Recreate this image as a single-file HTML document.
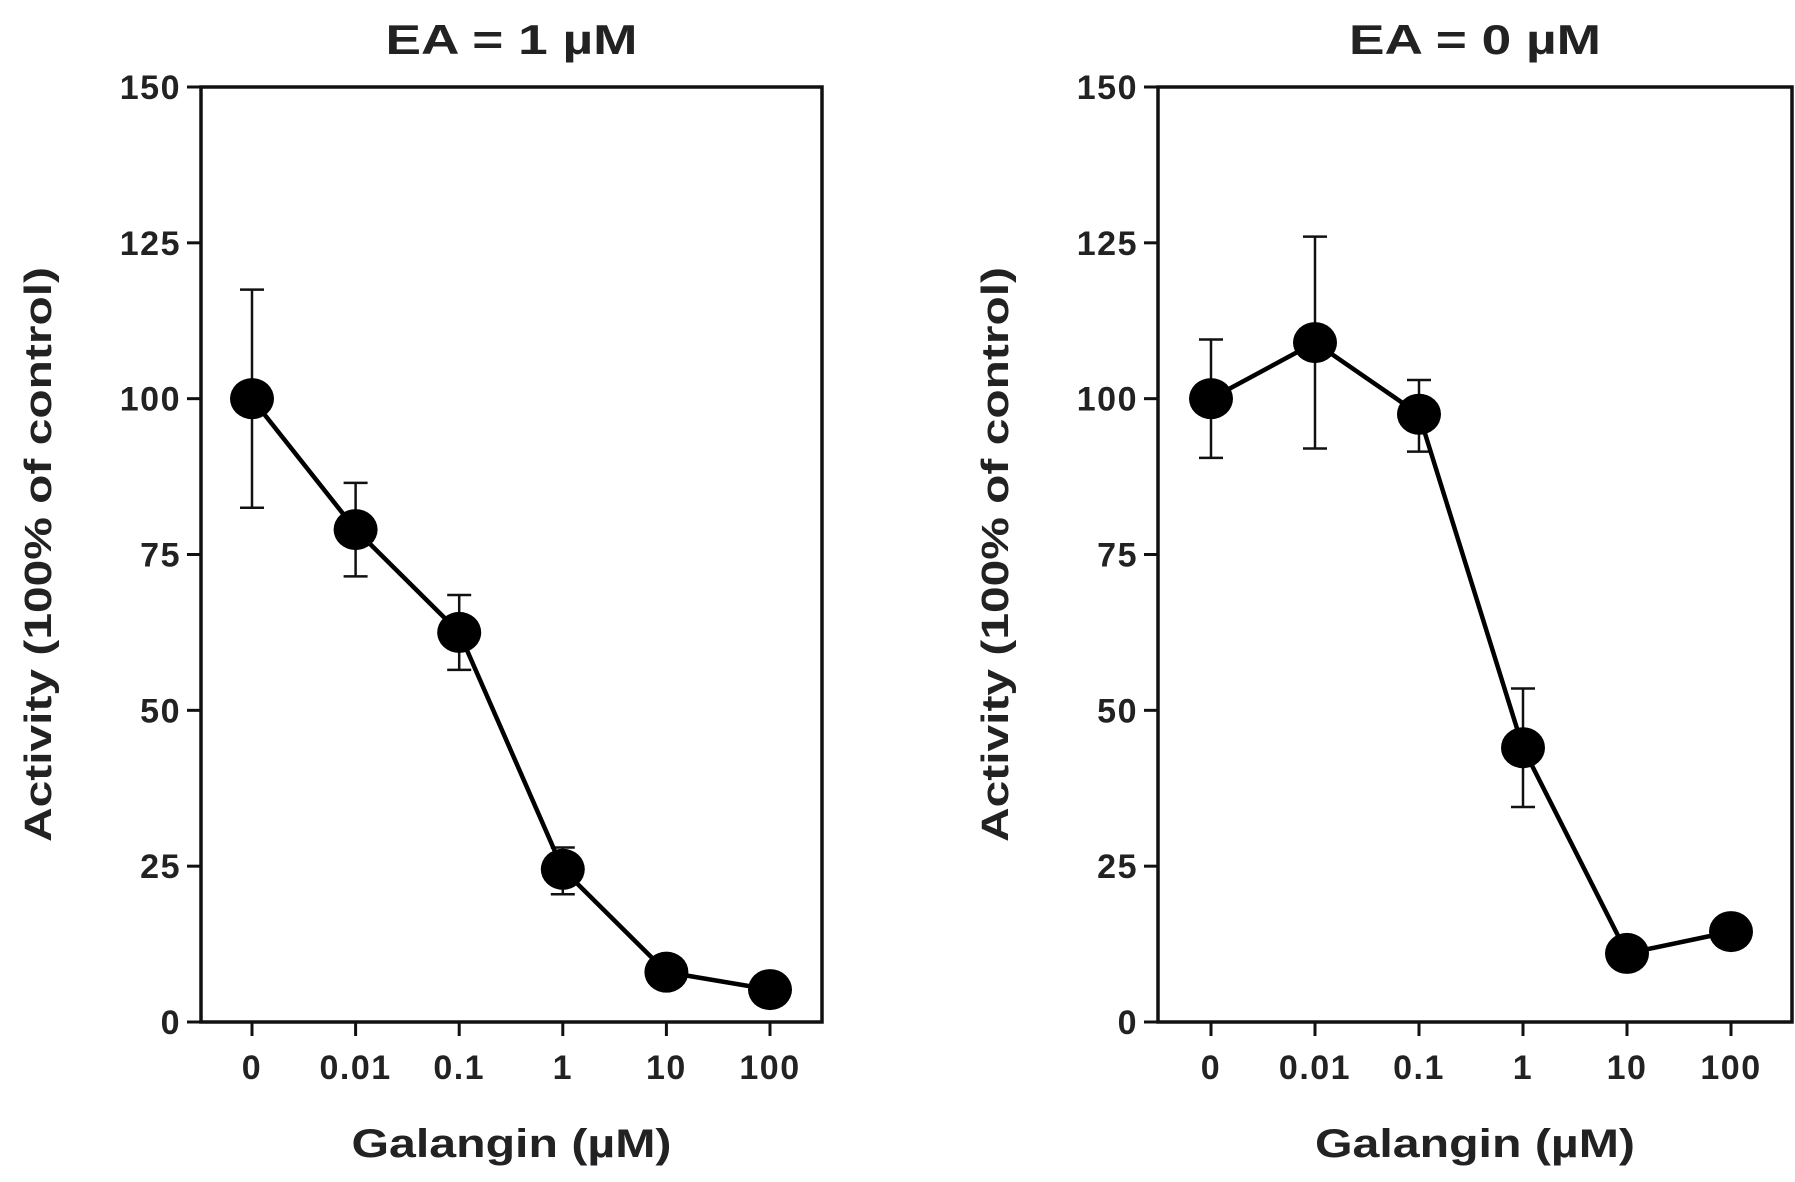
<!DOCTYPE html>
<html><head><meta charset="utf-8"><style>
html,body{margin:0;padding:0;background:#fff}
svg{display:block}
text{font-family:"Liberation Sans",Arial,sans-serif;font-weight:bold;fill:#222}
</style></head><body>
<svg id="c" width="1795" height="1182" viewBox="0 0 1795 1182"></svg>
<script>
const categories = ["0","0.01","0.1","1","10","100"];
const yTicks = [0,25,50,75,100,125,150];
const meanEA1 = [100,79,62.5,24.5,8,5.2];
const errLowEA1 = [82.5,71.5,56.5,20.5,8,5.2];
const errHighEA1 = [117.5,86.5,68.5,28,8,5.2];
const meanEA0 = [100,109,97.5,44,11,14.5];
const errLowEA0 = [90.5,92,91.5,34.5,11,14.5];
const errHighEA0 = [109.5,126,103,53.5,11,14.5];
const titles = ["EA = 1 µM","EA = 0 µM"];

const NS="http://www.w3.org/2000/svg";
const svg=document.getElementById('c');
function mk(tag,attrs,parent){const e=document.createElementNS(NS,tag);for(const k in attrs)e.setAttribute(k,attrs[k]);(parent||svg).appendChild(e);return e;}

function panel(px,key,title,mean,lo,hi){
  const L=px.left,R=px.right,T=87,B=1022;
  const y=v=>B-(v/150)*(B-T);
  const x=i=>px.x0+i*px.dx;
  const g=mk('g',{});
  
  
  const t=mk('text',{x:(L+R)/2,y:54,'text-anchor':'middle','font-size':42,textLength:252,lengthAdjust:'spacingAndGlyphs'},g);
  t.textContent=title;
  
  
  const frame=mk('rect',{x:L,y:T,width:R-L,height:B-T,fill:'none',stroke:'#111','stroke-width':3.5},g);
  
  
  yTicks.forEach(v=>{
    const tk=mk('line',{x1:L-14,x2:L,y1:y(v),y2:y(v),stroke:'#111','stroke-width':3},g);
    
    
    const tl=mk('text',{x:L-20,y:y(v)+12,'text-anchor':'end','font-size':34,'letter-spacing':1.5},g);
    tl.textContent=v;
    
    
  });
  categories.forEach((c,i)=>{
    const tk=mk('line',{x1:x(i),x2:x(i),y1:B,y2:B+14,stroke:'#111','stroke-width':3},g);
    
    
    const tl=mk('text',{x:x(i),y:1079,'text-anchor':'middle','font-size':34,'letter-spacing':1.5},g);
    tl.textContent=c;
    
    
  });
  const yl=mk('text',{x:0,y:0,'text-anchor':'middle','font-size':38,textLength:575,lengthAdjust:'spacingAndGlyphs',transform:`translate(${L-150},${(T+B)/2}) rotate(-90)`},g);
  yl.textContent='Activity (100% of control)';
  
  
  const xl=mk('text',{x:(L+R)/2,y:1157,'text-anchor':'middle','font-size':40,textLength:320,lengthAdjust:'spacingAndGlyphs'},g);
  xl.textContent='Galangin (µM)';
  
  
  mean.forEach((m,i)=>{
    if(hi[i]-lo[i]<1)return;
    const eb=mk('path',{d:`M${x(i)} ${y(lo[i])}V${y(hi[i])}M${x(i)-12} ${y(lo[i])}h24M${x(i)-12} ${y(hi[i])}h24`,stroke:'#111','stroke-width':2.5,fill:'none'},g);
    
    
  });
  const line=mk('polyline',{points:mean.map((m,i)=>x(i)+','+y(m)).join(' '),fill:'none',stroke:'#000','stroke-width':4.5},g);
  
  
  mean.forEach((m,i)=>{
    const p=mk('ellipse',{cx:x(i),cy:y(m),rx:22,ry:20.5,fill:'#000'},g);
    
    
  });
}
panel({left:201,right:822,x0:252,dx:103.6},'ea1',titles[0],meanEA1,errLowEA1,errHighEA1);
panel({left:1158,right:1792,x0:1211,dx:104},'ea0',titles[1],meanEA0,errLowEA0,errHighEA0);
</script>
</body></html>
